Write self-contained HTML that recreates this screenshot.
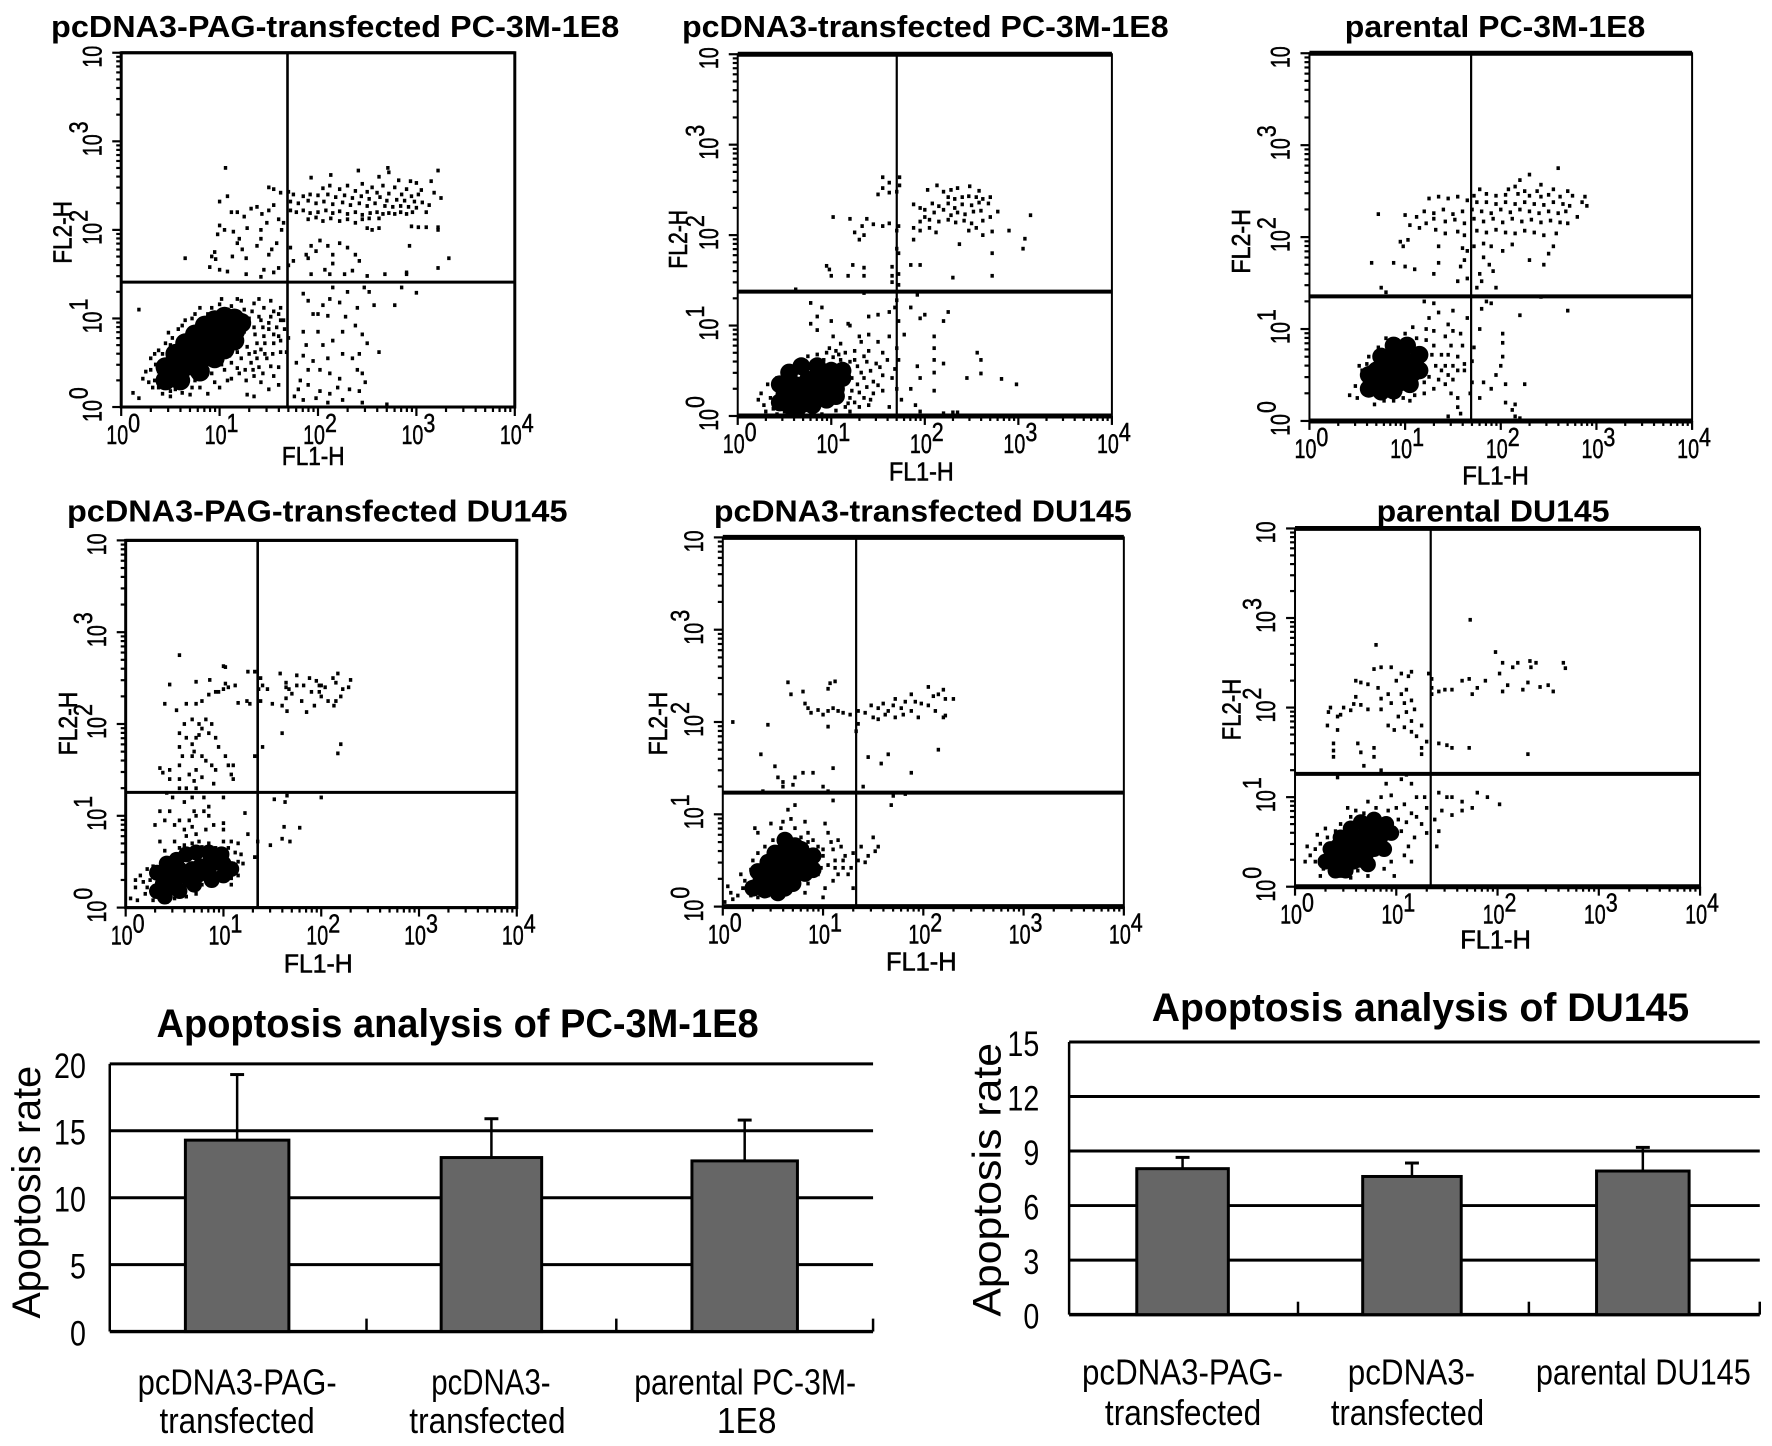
<!DOCTYPE html>
<html lang="en"><head><meta charset="utf-8"><title>Apoptosis flow cytometry</title>
<style>html,body{margin:0;padding:0;background:#fff}svg{display:block}text{font-family:"Liberation Sans",sans-serif;fill:#000}</style></head>
<body>
<svg id="fig" xmlns="http://www.w3.org/2000/svg" width="1772" height="1446" viewBox="0 0 1780 1453">
<rect width="1780" height="1453" fill="#fff"/>
<g id="plots"></g>
<g id="bars"></g>
</svg>
<script>
const decadeTicks=[0,1,2,3,4];
const minorMultiples=[2,3,4,5,6,7,8,9];
const panelTitles=["pcDNA3-PAG-transfected PC-3M-1E8","pcDNA3-transfected PC-3M-1E8","parental PC-3M-1E8","pcDNA3-PAG-transfected DU145","pcDNA3-transfected DU145","parental DU145"];
const gateFL1=[1.69,1.70,1.69,1.35,1.33,1.34];
const gateFL2=[1.41,1.375,1.355,1.255,1.235,1.26];
const points1=[[1.06,2.70],[3.22,2.67],[2.41,2.67],[2.71,2.70],[2.72,2.65],[1.93,2.59],[2.13,2.62],[2.62,2.60],[3.0,2.53],[3.15,2.55],[2.82,2.56],[2.94,2.55],[2.45,2.52],[2.55,2.48],[2.66,2.5],[2.78,2.48],[2.9,2.46],[3.05,2.45],[3.18,2.42],[3.25,2.36],[2.05,2.47],[2.12,2.5],[2.22,2.46],[2.3,2.5],[2.38,2.44],[2.5,2.43],[2.6,2.42],[2.72,2.41],[2.85,2.4],[2.95,2.38],[3.02,2.4],[1.5,2.48],[1.55,2.46],[1.62,2.42],[1.7,2.43],[1.75,2.4],[1.85,2.38],[1.92,2.4],[2.0,2.39],[2.1,2.4],[2.18,2.37],[2.27,2.39],[2.35,2.36],[2.44,2.38],[2.52,2.35],[2.63,2.37],[2.7,2.33],[2.8,2.34],[2.88,2.33],[2.98,2.32],[3.06,2.31],[3.13,2.28],[1.72,2.32],[1.8,2.3],[1.9,2.33],[1.98,2.3],[2.06,2.32],[2.15,2.29],[2.25,2.31],[2.33,2.28],[2.42,2.3],[2.5,2.27],[2.58,2.3],[2.68,2.27],[2.76,2.26],[2.84,2.27],[2.92,2.26],[3.0,2.25],[1.72,2.22],[1.78,2.2],[1.85,2.22],[1.92,2.19],[2.0,2.2],[2.08,2.22],[2.15,2.19],[2.22,2.21],[2.3,2.18],[2.38,2.2],[2.45,2.17],[2.53,2.19],[2.6,2.2],[2.66,2.18],[2.72,2.19],[2.78,2.18],[2.84,2.2],[2.9,2.18],[2.96,2.2],[3.1,2.2],[1.9,2.12],[1.98,2.14],[2.05,2.1],[2.13,2.13],[2.22,2.1],[2.3,2.12],[2.38,2.08],[2.45,2.12],[2.52,2.13],[2.62,2.13],[2.95,2.04],[3.02,2.03],[3.1,2.03],[3.22,2.03],[2.5,2.02],[2.55,2.0],[2.62,2.02],[1.0,2.32],[1.08,2.38],[1.12,2.2],[1.18,2.2],[1.25,2.15],[1.32,2.24],[1.38,2.26],[1.43,2.18],[1.5,2.22],[1.55,2.28],[1.6,2.12],[1.48,2.08],[1.42,2.0],[1.28,2.02],[1.65,2.08],[1.63,2.0],[1.0,2.05],[1.05,2.0],[0.98,1.95],[1.14,1.98],[1.58,1.85],[1.42,1.9],[1.38,1.82],[1.2,1.9],[1.18,1.85],[1.23,1.78],[0.95,1.75],[0.92,1.7],[0.96,1.67],[0.65,1.68],[1.13,1.7],[1.27,1.68],[1.5,1.72],[1.53,1.78],[1.75,1.65],[1.7,1.6],[1.6,1.57],[1.45,1.55],[1.27,1.5],[1.08,1.53],[1.0,1.55],[0.9,1.58],[1.42,1.47],[1.55,1.52],[1.72,1.8],[1.88,1.72],[1.93,1.82],[2.02,1.88],[2.1,1.82],[2.15,1.72],[2.22,1.85],[2.3,1.8],[2.38,1.72],[2.42,1.65],[1.9,1.68],[1.98,1.76],[1.93,1.5],[2.07,1.55],[2.12,1.5],[2.15,1.62],[2.27,1.5],[2.35,1.54],[2.5,1.48],[2.68,1.5],[2.9,1.5],[2.93,1.82],[3.22,2.0],[3.33,1.68],[3.22,1.57],[2.9,1.52],[3.0,1.29],[2.78,1.15],[2.85,1.35],[2.52,1.3],[2.47,1.35],[2.57,1.15],[2.4,1.12],[2.3,1.3],[2.15,1.35],[2.12,1.22],[2.05,1.15],[2.0,1.05],[2.1,1.03],[2.22,1.18],[2.28,1.02],[1.85,1.28],[1.9,1.2],[1.95,1.05],[2.0,0.85],[1.85,0.85],[1.88,0.7],[2.05,0.7],[2.15,0.75],[2.25,0.85],[2.38,0.92],[2.45,0.82],[2.5,0.72],[2.62,0.62],[2.42,0.6],[2.35,0.55],[2.25,0.6],[2.1,0.55],[1.95,0.52],[1.85,0.58],[1.78,0.5],[1.9,0.42],[2.02,0.42],[2.12,0.38],[2.22,0.32],[2.4,0.42],[2.45,0.38],[2.48,0.28],[2.42,0.18],[2.32,0.2],[2.2,0.22],[2.12,0.15],[2.02,0.18],[1.9,0.25],[1.82,0.3],[1.8,0.2],[1.76,0.12],[1.85,0.08],[1.98,0.1],[2.1,0.05],[2.25,0.08],[2.45,0.05],[2.7,0.03],[1.35,0.12],[1.5,0.2],[1.42,0.28],[1.6,0.25],[1.55,0.35],[1.35,0.35],[1.27,0.3],[1.2,0.38],[1.4,0.45],[1.6,0.45],[1.48,0.55],[1.3,0.6],[1.62,0.62],[1.7,0.78],[1.55,0.72],[1.45,0.8],[1.38,0.72],[1.5,0.95],[1.58,0.9],[1.65,0.98],[1.55,1.08],[1.62,1.12],[1.45,1.12],[1.35,1.17],[1.25,1.1],[1.18,1.22],[1.08,1.1],[1.0,1.16],[0.88,1.05],[0.8,1.12],[0.72,1.0],[0.65,0.98],[0.58,0.88],[0.52,0.78],[0.45,0.72],[0.38,0.64],[0.3,0.55],[0.25,0.4],[0.34,0.3],[0.32,0.22],[0.42,0.15],[0.5,0.12],[0.7,0.14],[0.58,0.22],[0.8,0.22],[0.95,0.28],[1.08,0.3],[0.88,0.15],[1.28,0.14],[0.18,0.1],[0.12,0.16],[0.18,1.1],[1.05,1.0],[1.18,1.05],[1.3,1.0],[1.42,0.98],[1.5,0.88],[1.35,0.9],[1.25,0.85],[1.42,0.65],[1.32,0.5],[1.22,0.55],[1.12,0.5],[1.05,0.42],[0.98,0.52],[0.88,0.42],[1.62,0.75],[1.68,0.62],[1.6,0.8],[1.2,0.7],[0.38,0.4],[0.45,0.28],[0.55,0.2],[0.65,0.26],[0.75,0.3],[0.35,0.48],[0.42,0.6],[0.5,0.7],[0.6,0.78],[0.7,0.85],[0.8,0.92],[0.9,0.98],[1.0,0.95],[1.33,1.08],[1.4,1.02],[1.28,0.92],[1.36,0.82],[1.44,0.9],[1.52,1.02],[1.6,1.05],[1.66,0.88],[1.55,0.82],[1.46,0.72],[1.36,0.62],[1.28,0.68],[1.18,0.62],[1.1,0.58],[1.02,0.48],[0.92,0.38],[0.82,0.33],[0.72,0.22],[0.62,0.16],[0.5,0.18],[0.38,0.22],[0.28,0.28],[0.22,0.32],[0.3,0.42],[0.34,0.6],[0.48,0.84],[0.62,0.92],[0.75,1.05],[0.92,1.12],[1.02,1.22],[1.12,1.14],[1.22,1.2],[1.4,1.22],[1.52,1.2],[1.62,0.98],[1.26,0.42],[1.18,0.44],[1.34,0.42],[1.44,0.38],[1.52,0.46],[1.46,0.6],[1.54,0.6],[1.12,0.32],[1.0,0.22],[1.38,0.55]];
const core1=[[0.5,0.35],[0.6,0.4],[0.7,0.47],[0.8,0.52],[0.9,0.6],[1.0,0.68],[1.08,0.78],[1.16,0.86],[0.58,0.52],[0.68,0.6],[0.78,0.68],[0.88,0.76],[0.98,0.84],[1.08,0.9],[0.72,0.72],[0.82,0.82],[0.92,0.88],[0.45,0.3],[0.45,0.45],[0.55,0.6],[0.65,0.72],[0.75,0.82],[0.85,0.92],[0.95,0.98],[1.05,1.02],[1.15,1.0],[1.22,0.95],[0.6,0.3],[0.8,0.4],[0.95,0.55],[1.05,0.65],[1.15,0.75]];
const points2=[[1.55,2.64],[1.73,2.64],[1.55,2.52],[1.73,2.55],[1.62,2.58],[1.7,2.48],[1.5,2.45],[1.62,2.47],[2.03,2.5],[2.13,2.55],[2.2,2.48],[2.28,2.5],[2.35,2.52],[2.48,2.54],[2.58,2.49],[2.25,2.42],[2.32,2.4],[2.4,2.42],[2.47,2.43],[2.55,2.42],[2.62,2.4],[2.08,2.35],[2.15,2.32],[2.25,2.35],[2.32,2.3],[2.4,2.34],[2.5,2.33],[2.58,2.36],[2.68,2.35],[2.7,2.42],[1.88,2.34],[1.95,2.3],[2.0,2.28],[2.1,2.25],[2.2,2.28],[2.28,2.22],[2.35,2.25],[2.43,2.23],[2.52,2.26],[2.6,2.27],[2.78,2.26],[3.13,2.22],[2.0,2.2],[1.95,2.15],[2.05,2.17],[2.15,2.15],[2.25,2.17],[2.33,2.14],[2.42,2.16],[2.5,2.13],[2.62,2.16],[2.7,2.2],[2.55,2.08],[2.72,2.04],[2.9,2.05],[3.07,1.96],[2.47,2.05],[2.62,2.0],[1.88,2.08],[1.95,2.05],[2.05,2.08],[2.12,2.03],[1.55,2.1],[1.62,2.13],[1.72,2.1],[1.45,2.12],[1.38,2.18],[1.33,2.1],[1.2,2.18],[1.02,2.2],[1.25,2.03],[1.35,2.0],[1.3,1.95],[1.7,2.05],[1.7,1.85],[2.37,1.9],[3.05,1.85],[2.72,1.8],[1.72,1.8],[1.88,1.95],[0.95,1.66],[0.98,1.62],[1.23,1.67],[1.35,1.64],[1.65,1.65],[1.72,1.57],[1.85,1.67],[1.95,1.67],[2.3,1.53],[2.72,1.55],[1.18,1.55],[1.35,1.55],[1.65,1.55],[1.72,1.45],[1.65,1.48],[1.0,1.55],[0.62,1.4],[1.35,1.36],[1.7,1.28],[1.92,1.34],[0.78,1.25],[0.9,1.2],[1.68,1.2],[1.85,1.2],[2.0,1.12],[2.25,1.15],[0.85,1.1],[1.0,1.05],[0.78,1.02],[1.18,1.02],[1.4,1.1],[1.5,1.12],[1.62,1.15],[1.72,1.05],[1.95,1.08],[2.2,1.05],[2.1,0.75],[2.1,0.88],[1.78,0.9],[1.62,0.88],[1.4,0.9],[1.2,1.0],[1.3,0.88],[0.85,0.95],[1.02,0.88],[1.1,0.8],[1.32,0.82],[1.5,0.82],[1.7,0.75],[2.1,0.62],[2.1,0.48],[2.56,0.7],[2.6,0.62],[2.6,0.47],[2.45,0.42],[2.82,0.41],[2.98,0.35],[2.2,0.58],[1.92,0.55],[1.95,0.42],[1.85,0.3],[1.9,0.12],[1.95,0.05],[2.3,0.04],[2.35,0.04],[2.1,0.28],[2.2,0.03],[0.25,0.25],[0.32,0.35],[0.35,0.2],[0.28,0.12],[0.38,0.08],[0.42,0.42],[0.48,0.5],[0.55,0.55],[0.5,0.05],[0.62,0.03],[0.7,0.08],[0.8,0.05],[0.9,0.02],[1.05,0.06],[1.15,0.1],[1.25,0.15],[1.35,0.2],[1.45,0.25],[1.55,0.28],[1.62,0.1],[1.7,0.3],[1.75,0.18],[1.65,0.42],[1.55,0.45],[1.45,0.38],[1.35,0.42],[1.28,0.35],[1.22,0.28],[1.28,0.55],[1.38,0.6],[1.48,0.58],[1.6,0.62],[1.72,0.62],[1.2,0.6],[1.1,0.62],[1.02,0.65],[0.92,0.62],[0.82,0.6],[1.05,0.72],[0.98,0.75],[1.15,0.7],[1.25,0.72],[1.4,0.72],[1.55,0.7],[1.68,0.52],[1.3,0.1],[1.4,0.12],[1.2,0.05],[1.2,0.2],[1.3,0.26],[1.38,0.32],[1.42,0.18],[1.5,0.34],[1.22,0.42],[1.32,0.48],[1.42,0.5],[1.52,0.54],[1.18,0.14],[1.1,0.18],[0.22,0.18],[0.3,0.05],[0.42,0.02],[1.14,0.56],[1.25,0.62],[1.35,0.66],[1.08,0.68],[0.95,0.7],[0.85,0.68],[0.75,0.66]];
const core2=[[0.5,0.24],[0.6,0.2],[0.7,0.26],[0.8,0.3],[0.9,0.35],[0.98,0.38],[0.62,0.34],[0.75,0.4],[0.88,0.46],[1.05,0.3],[0.72,0.14],[0.85,0.2],[1.12,0.42],[0.45,0.15],[0.55,0.12],[0.65,0.1],[0.8,0.12],[0.95,0.18],[1.05,0.22],[0.45,0.35],[0.55,0.48],[0.68,0.55],[0.85,0.55],[1.0,0.5],[1.12,0.5]];
const points3=[[2.6,2.75],[2.3,2.68],[2.2,2.62],[2.15,2.55],[2.55,2.52],[2.42,2.57],[2.7,2.5],[2.38,2.5],[2.25,2.5],[2.08,2.52],[1.78,2.52],[1.72,2.45],[1.85,2.47],[1.95,2.45],[2.05,2.46],[2.18,2.47],[2.3,2.45],[2.42,2.44],[2.5,2.46],[2.62,2.44],[2.75,2.45],[2.88,2.44],[1.25,2.42],[1.35,2.44],[1.45,2.42],[1.55,2.44],[1.65,2.4],[1.75,2.38],[1.85,2.38],[1.95,2.36],[2.05,2.38],[2.15,2.36],[2.25,2.38],[2.35,2.36],[2.45,2.35],[2.55,2.38],[2.65,2.36],[2.72,2.34],[2.85,2.38],[2.9,2.34],[0.72,2.25],[1.0,2.24],[1.12,2.22],[1.2,2.28],[1.3,2.26],[1.4,2.3],[1.5,2.25],[1.6,2.28],[1.7,2.3],[1.8,2.28],[1.9,2.26],[2.0,2.3],[2.1,2.27],[2.2,2.3],[2.3,2.28],[2.4,2.26],[2.5,2.28],[2.6,2.26],[2.68,2.28],[2.8,2.22],[1.22,2.15],[1.3,2.2],[1.42,2.17],[1.52,2.19],[1.62,2.15],[1.72,2.2],[1.82,2.17],[1.92,2.2],[2.02,2.16],[2.12,2.2],[2.22,2.17],[2.32,2.19],[2.42,2.16],[2.52,2.18],[2.62,2.16],[2.7,2.15],[1.05,2.13],[1.15,2.1],[1.32,2.08],[1.42,2.04],[1.55,2.06],[1.62,2.02],[1.75,2.07],[1.85,2.05],[1.95,2.08],[2.05,2.05],[2.15,2.04],[2.25,2.07],[2.35,2.05],[2.45,2.02],[2.58,2.04],[0.95,1.95],[1.03,1.97],[0.98,1.9],[1.35,1.9],[1.6,1.88],[1.65,1.85],[1.72,1.9],[1.82,1.93],[1.9,1.9],[2.02,1.85],[2.12,1.92],[2.55,1.9],[2.5,1.82],[2.3,1.75],[2.45,1.7],[0.65,1.72],[0.88,1.72],[1.0,1.68],[1.1,1.65],[1.35,1.72],[1.58,1.68],[1.62,1.75],[1.82,1.78],[1.88,1.7],[1.92,1.63],[1.65,1.55],[1.3,1.6],[1.55,1.52],[1.78,1.6],[1.8,1.52],[1.75,1.45],[1.95,1.45],[0.75,1.45],[0.8,1.4],[1.85,1.3],[1.9,1.28],[2.42,1.35],[2.7,1.2],[2.2,1.15],[1.8,1.22],[1.3,1.28],[1.2,1.3],[1.35,1.18],[1.25,1.12],[1.5,1.2],[1.45,1.05],[1.65,1.12],[1.78,1.0],[2.02,0.95],[2.02,0.85],[2.02,0.7],[2.0,0.6],[1.95,0.5],[1.9,0.35],[1.82,0.42],[1.7,0.42],[1.55,0.7],[1.62,0.55],[1.72,0.8],[1.7,0.65],[1.6,0.82],[1.5,0.98],[1.42,0.92],[1.3,0.98],[1.22,1.0],[1.08,1.02],[1.0,0.95],[0.92,0.88],[1.45,0.72],[1.38,0.55],[1.5,0.45],[1.42,0.4],[1.3,0.35],[1.2,0.3],[1.1,0.28],[0.98,0.25],[0.88,0.22],[0.75,0.3],[0.68,0.18],[0.48,0.38],[0.42,0.28],[0.5,0.25],[0.58,0.45],[0.6,0.32],[0.52,0.6],[0.62,0.7],[0.72,0.8],[0.8,0.9],[1.48,0.3],[1.55,0.25],[1.55,0.15],[1.58,0.08],[1.45,0.05],[2.05,0.2],[2.12,0.12],[2.15,0.05],[2.2,0.03],[2.15,0.18],[2.05,0.4],[2.25,0.4],[1.68,0.3],[1.78,0.25],[1.5,0.6],[1.58,0.95],[1.42,0.6],[1.25,0.48],[1.32,0.6],[1.38,0.72],[1.3,0.82],[1.22,0.88],[1.12,0.9],[1.45,0.5],[1.55,0.55],[1.62,0.62],[1.35,0.45],[1.2,0.42],[1.05,0.22],[0.9,0.28],[0.55,0.55],[0.6,0.62],[0.55,0.35],[0.78,0.22],[1.28,0.72],[1.48,0.82]];
const core3=[[0.72,0.42],[0.82,0.46],[0.95,0.42],[0.7,0.55],[0.82,0.58],[0.95,0.55],[1.08,0.52],[0.85,0.68],[0.98,0.68],[1.1,0.64],[0.95,0.78],[0.62,0.35],[0.62,0.5],[0.75,0.32],[0.88,0.33],[1.05,0.4],[1.15,0.55],[1.15,0.72],[1.02,0.82],[0.88,0.82],[0.75,0.7]];
const points4=[[0.55,2.75],[1.0,2.63],[1.02,2.62],[0.45,2.43],[0.72,2.46],[0.86,2.48],[0.95,2.35],[1.02,2.44],[1.05,2.4],[0.4,2.22],[0.52,2.15],[0.62,2.22],[0.72,2.22],[0.78,2.25],[0.85,2.32],[0.92,2.35],[1.0,2.38],[1.12,2.42],[1.25,2.57],[1.32,2.57],[1.38,2.5],[1.4,2.42],[1.36,2.38],[1.38,2.25],[1.24,2.25],[1.27,2.22],[1.15,2.23],[1.45,2.38],[1.5,2.22],[1.58,2.55],[1.64,2.28],[1.65,2.14],[1.6,2.2],[1.67,2.38],[1.64,2.45],[1.64,2.4],[1.75,2.53],[1.7,2.33],[1.75,2.42],[1.8,2.25],[1.82,2.42],[1.88,2.5],[1.9,2.35],[1.95,2.47],[1.98,2.42],[2.0,2.42],[2.04,2.4],[1.98,2.35],[2.0,2.3],[2.15,2.45],[2.17,2.55],[2.12,2.5],[2.13,2.2],[2.15,2.25],[2.2,2.3],[2.22,2.38],[2.28,2.4],[2.3,2.48],[1.85,2.13],[1.93,2.2],[2.07,2.25],[1.6,1.9],[1.4,1.75],[2.2,1.78],[2.17,1.68],[1.32,1.65],[0.55,1.9],[0.6,2.0],[0.68,2.05],[0.62,1.85],[0.72,1.85],[0.68,1.78],[0.55,1.75],[0.58,1.65],[0.7,1.7],[0.75,2.0],[0.82,2.05],[0.78,1.95],[0.75,1.88],[0.85,1.9],[0.88,2.0],[0.92,1.85],[0.95,1.75],[0.68,1.65],[0.78,1.65],[0.82,1.6],[0.88,1.55],[0.92,1.5],[1.02,1.65],[1.05,1.55],[1.1,1.55],[1.08,1.45],[0.35,1.52],[0.38,1.47],[0.45,1.5],[0.55,1.55],[0.45,1.4],[0.55,1.4],[0.65,1.45],[0.72,1.5],[0.7,1.38],[0.78,1.42],[0.42,1.25],[0.48,1.2],[0.55,1.3],[0.62,1.3],[0.72,1.3],[0.9,1.35],[1.1,1.4],[1.0,1.2],[0.8,1.2],[0.35,1.05],[0.45,1.05],[0.6,1.15],[0.68,1.2],[0.7,1.05],[0.72,1.0],[0.8,1.05],[0.85,1.1],[0.85,1.0],[1.22,1.03],[0.3,0.9],[0.4,0.95],[0.5,0.9],[0.55,0.95],[0.6,0.85],[0.62,0.78],[0.65,0.95],[0.68,0.88],[0.72,0.8],[0.75,0.72],[0.82,0.85],[0.9,0.9],[1.0,0.92],[1.08,0.72],[1.15,0.7],[1.0,0.85],[1.25,0.8],[1.35,0.72],[1.48,0.68],[1.6,0.75],[1.68,0.72],[1.78,0.87],[1.62,0.88],[1.63,1.15],[1.52,1.18],[1.65,1.22],[2.0,1.2],[1.32,0.55],[0.35,0.72],[0.4,0.62],[0.38,0.52],[0.28,0.45],[0.32,0.38],[0.22,0.42],[0.25,0.3],[0.18,0.28],[0.1,0.22],[0.05,0.1],[0.12,0.08],[0.2,0.15],[0.3,0.15],[0.62,0.12],[0.72,0.15],[0.5,0.72],[0.55,0.65],[0.6,0.68],[0.68,0.7],[0.78,0.66],[0.85,0.7],[0.92,0.65],[1.0,0.72],[1.05,0.65],[1.12,0.6],[1.18,0.58],[1.1,0.48],[1.12,0.4],[1.15,0.35],[1.08,0.32],[1.0,0.36],[0.92,0.32],[0.85,0.28],[0.78,0.25],[0.7,0.2],[0.6,0.18],[1.15,0.5],[0.15,0.35],[0.22,0.22],[0.1,0.3],[0.28,0.08],[0.42,0.06],[0.5,0.1],[1.2,0.48],[1.08,0.25]];
const core4=[[0.38,0.26],[0.45,0.22],[0.42,0.35],[0.52,0.32],[0.6,0.38],[0.68,0.42],[0.76,0.45],[0.84,0.47],[0.92,0.49],[1.0,0.48],[0.55,0.42],[0.65,0.3],[0.75,0.36],[0.85,0.38],[0.32,0.18],[0.4,0.12],[0.32,0.38],[0.42,0.48],[0.52,0.52],[0.62,0.58],[0.72,0.6],[0.85,0.6],[0.98,0.58],[1.08,0.42],[0.55,0.18],[0.7,0.25],[0.88,0.3],[1.0,0.35]];
const points5=[[0.65,2.43],[0.8,2.33],[0.68,2.3],[1.07,2.42],[1.12,2.44],[1.05,2.36],[0.82,2.2],[0.85,2.15],[0.95,2.13],[0.88,2.1],[1.0,2.08],[1.05,2.12],[1.1,2.15],[1.15,2.12],[1.2,2.1],[1.27,2.08],[1.35,2.12],[1.42,2.1],[1.48,2.18],[1.55,2.15],[1.6,2.2],[1.65,2.12],[1.7,2.18],[1.72,2.25],[1.78,2.15],[1.82,2.22],[1.88,2.3],[1.92,2.22],[1.98,2.2],[2.05,2.38],[2.1,2.28],[2.15,2.3],[2.2,2.35],[2.22,2.25],[1.5,2.05],[1.55,2.03],[1.62,2.08],[1.72,2.05],[1.8,2.08],[1.88,2.12],[1.95,2.05],[2.05,2.18],[2.12,2.12],[2.2,2.05],[2.22,2.07],[2.3,2.25],[0.1,2.0],[0.45,1.97],[1.05,1.95],[1.35,1.98],[1.33,1.9],[1.65,1.65],[2.15,1.7],[0.38,1.65],[1.45,1.62],[0.52,1.52],[1.58,1.55],[1.1,1.5],[1.88,1.45],[0.55,1.4],[0.6,1.35],[0.72,1.4],[0.8,1.45],[0.9,1.45],[0.6,1.3],[0.7,1.32],[1.0,1.3],[1.4,1.3],[0.4,1.25],[1.05,1.25],[1.1,1.15],[1.7,1.2],[1.82,1.22],[1.68,1.1],[0.65,1.05],[0.72,1.1],[0.68,0.95],[0.6,0.92],[0.58,0.85],[0.48,0.9],[0.32,0.85],[0.35,0.8],[0.5,0.72],[0.6,0.75],[0.72,0.7],[0.85,0.8],[1.02,0.9],[1.05,0.8],[1.08,0.7],[1.15,0.72],[1.1,0.62],[1.5,0.75],[1.55,0.65],[1.45,0.55],[1.52,0.6],[1.42,0.48],[1.35,0.5],[1.3,0.58],[1.28,0.42],[1.25,0.35],[1.38,0.65],[1.2,0.42],[1.15,0.35],[1.22,0.55],[1.18,0.65],[1.02,0.2],[1.1,0.28],[1.3,0.2],[0.08,0.15],[0.05,0.22],[0.1,0.08],[0.15,0.12],[0.2,0.2],[0.28,0.12],[0.22,0.28],[0.18,0.35],[0.28,0.4],[0.3,0.5],[0.35,0.58],[0.42,0.65],[0.5,0.62],[0.62,0.6],[0.85,0.7],[0.95,0.65],[1.0,0.55],[0.98,0.42],[0.95,0.35],[0.85,0.25],[0.75,0.22],[0.65,0.2],[0.55,0.15],[0.45,0.12],[0.38,0.2],[1.05,0.45],[1.12,0.5],[0.88,0.55],[0.78,0.62],[0.7,0.58],[0.82,0.15],[1.0,0.1],[0.35,0.1],[0.02,0.05],[0.78,0.75],[0.9,0.72],[1.0,0.62],[1.12,0.42],[1.2,0.5],[0.72,0.85],[0.82,0.92]];
const core5=[[0.38,0.28],[0.45,0.3],[0.42,0.18],[0.52,0.24],[0.6,0.3],[0.68,0.36],[0.55,0.38],[0.65,0.45],[0.75,0.42],[0.82,0.48],[0.72,0.52],[0.3,0.2],[0.35,0.38],[0.45,0.48],[0.52,0.58],[0.62,0.62],[0.78,0.62],[0.9,0.55],[0.9,0.4],[0.55,0.15],[0.7,0.25],[0.62,0.72],[0.5,0.42],[0.6,0.5],[0.45,0.2],[0.62,0.2],[0.72,0.38],[0.82,0.36],[0.8,0.55],[0.72,0.66]];
const points6=[[1.73,2.98],[0.8,2.7],[1.98,2.62],[2.2,2.5],[2.05,2.5],[2.15,2.45],[2.02,2.38],[2.32,2.52],[2.33,2.45],[2.38,2.5],[2.65,2.5],[2.67,2.44],[0.85,2.45],[0.78,2.43],[0.95,2.45],[1.05,2.38],[1.12,2.35],[1.15,2.4],[1.32,2.38],[0.6,2.3],[0.65,2.28],[0.72,2.26],[0.82,2.22],[0.85,2.1],[0.92,2.15],[0.95,2.05],[1.0,2.3],[1.05,2.15],[1.1,2.2],[1.08,2.05],[1.15,2.08],[1.18,1.98],[1.1,1.95],[1.15,1.85],[0.6,2.12],[0.58,2.04],[0.65,2.03],[0.55,1.97],[0.48,2.0],[0.35,2.0],[0.33,1.95],[0.45,1.92],[0.42,1.9],[0.32,1.8],[0.42,1.75],[0.72,1.98],[0.85,1.98],[0.92,1.8],[0.98,1.75],[1.02,1.9],[1.08,1.78],[1.15,1.73],[1.2,1.68],[1.25,1.8],[1.3,1.62],[0.38,1.6],[0.38,1.52],[0.38,1.45],[0.62,1.6],[0.65,1.5],[0.78,1.55],[0.78,1.45],[0.68,1.35],[1.25,1.55],[1.25,1.48],[1.42,1.6],[1.5,1.58],[1.55,1.55],[1.72,1.55],[2.3,1.48],[1.35,2.32],[1.35,2.22],[1.42,2.18],[1.48,2.2],[1.55,2.2],[1.65,2.3],[1.72,2.32],[1.75,2.15],[1.8,2.22],[1.88,2.3],[2.05,2.18],[2.1,2.25],[2.25,2.2],[2.3,2.28],[2.42,2.23],[2.5,2.25],[2.55,2.18],[1.35,2.15],[0.42,1.22],[0.85,1.3],[0.9,1.15],[0.95,1.02],[1.05,1.2],[1.1,1.25],[1.15,1.15],[1.2,1.0],[1.28,1.0],[1.42,1.05],[1.5,1.0],[1.55,1.0],[1.65,0.95],[1.8,1.05],[1.9,1.0],[2.02,0.92],[1.45,0.85],[1.55,0.8],[1.65,0.85],[1.75,0.88],[1.38,0.75],[1.42,0.62],[1.4,0.45],[1.3,0.6],[1.25,0.7],[1.15,0.82],[1.08,0.92],[1.0,0.88],[0.85,1.0],[0.72,0.95],[0.6,0.85],[0.55,0.78],[0.45,0.7],[0.4,0.62],[0.32,0.55],[0.25,0.48],[0.2,0.42],[0.15,0.35],[0.2,0.28],[0.28,0.2],[0.35,0.15],[0.45,0.12],[0.55,0.1],[0.72,0.12],[0.88,0.2],[0.95,0.28],[1.08,0.35],[1.12,0.45],[1.18,0.55],[1.05,0.62],[1.02,0.75],[0.92,0.85],[0.8,0.88],[0.68,0.82],[0.72,0.25],[0.62,0.18],[1.1,0.72],[1.2,0.78],[1.3,0.88],[0.52,0.88],[0.3,0.65],[0.22,0.58],[0.12,0.45],[0.1,0.28],[0.25,0.12],[0.98,0.12],[1.15,0.28]];
const core6=[[0.3,0.28],[0.38,0.28],[0.45,0.32],[0.52,0.38],[0.6,0.42],[0.68,0.46],[0.76,0.5],[0.84,0.54],[0.42,0.45],[0.52,0.5],[0.62,0.55],[0.72,0.6],[0.58,0.28],[0.7,0.36],[0.82,0.66],[0.35,0.42],[0.45,0.55],[0.55,0.65],[0.65,0.72],[0.78,0.75],[0.9,0.7],[0.95,0.6],[0.88,0.42],[0.5,0.18],[0.4,0.18],[0.72,0.25],[0.5,0.3],[0.6,0.35],[0.65,0.3],[0.78,0.42],[0.78,0.6],[0.7,0.68],[0.5,0.42],[0.82,0.5]];
const pointSeries=[points1,points2,points3,points4,points5,points6];
const coreSeries=[core1,core2,core3,core4,core5,core6];
const pc3Categories=[["pcDNA3-PAG-","transfected"],["pcDNA3-","transfected"],["parental PC-3M-","1E8"]];
const pc3Values=[14.3,13.0,12.75];
const pc3Errors=[4.9,2.9,3.05];
const pc3Ticks=[0,5,10,15,20];
const du145Categories=[["pcDNA3-PAG-","transfected"],["pcDNA3-","transfected"],["parental DU145"]];
const du145Values=[8.03,7.6,7.9];
const du145Errors=[0.62,0.74,1.3];
const du145Ticks=[0,3,6,9,12,15];
const NS="http://www.w3.org/2000/svg";
function make(parent,tag,attrs,txt){const e=document.createElementNS(NS,tag);for(const k in attrs)e.setAttribute(k,attrs[k]);if(txt!==undefined)e.textContent=txt;parent.appendChild(e);return e;}
const panelLayouts=[
{l:121.5,r:517,t:53,b:409,ti:[51,622,37],fl1:[283,346,467],fl2:[71.5,202,265],frame:3,edge:3,gh:3,gv:2.6,coreR:10},
{l:741,r:1117,t:54.5,b:418,ti:[685,1174,37],fl1:[893,958,483],fl2:[690,211,270],frame:2,edge:5,gh:4,gv:2.2,coreR:9},
{l:1315.5,r:1700,t:53.5,b:423,ti:[1351,1653,37],fl1:[1469,1536,487],fl2:[1256,210,275],frame:2,edge:5,gh:4,gv:2.2,coreR:9},
{l:126,r:519,t:543,b:912,ti:[67,570,524],fl1:[285,354,977],fl2:[77,695,759],frame:3,edge:3,gh:3,gv:2.6,coreR:8},
{l:726,r:1129,t:540,b:911,ti:[717,1137,524],fl1:[890,961,975],fl2:[670,695,759],frame:2,edge:5,gh:4,gv:2.2,coreR:8.5},
{l:1301,r:1708,t:531,b:891,ti:[1383,1617,524],fl1:[1467,1538,953],fl2:[1246,682,744],frame:2,edge:5,gh:4,gv:2.2,coreR:8}];
const plots=document.getElementById('plots');
function fitText(parent,name,x,y,len,size,weight,txt,rot,thick){
  const e=make(parent,'text',{x:x,y:y,'font-size':size,'font-weight':weight,textLength:len,lengthAdjust:'spacingAndGlyphs'},txt);
  
  
  if(thick){e.setAttribute('stroke','#000');e.setAttribute('stroke-width',thick);}
  if(rot)e.setAttribute('transform','rotate(-90 '+x+' '+y+')');
  return e;
}
panelLayouts.forEach(function(p,i){
  const g=make(plots,'g',{});
  
  
  const sx=function(v){return p.l+(p.r-p.l)*v/4;};
  const sy=function(v){return p.b-(p.b-p.t)*v/4;};
  fitText(g,'plot-title',p.ti[0],p.ti[2],p.ti[1]-p.ti[0],31,'bold',panelTitles[i]);
  coreSeries[i].forEach(function(c){
    const m=make(g,'circle',{cx:sx(c[0]),cy:sy(c[1]),r:p.coreR,fill:'#000'});
    
    
  });
  pointSeries[i].forEach(function(c){
    const m=make(g,'rect',{x:sx(c[0])-1.7,y:sy(c[1])-1.9,width:3.4,height:3.8,fill:'#000'});
    
    
  });
  const fr=make(g,'rect',{x:p.l,y:p.t,width:p.r-p.l,height:p.b-p.t,fill:'none',stroke:'#000','stroke-width':p.frame});
  
  
  [p.t,p.b].forEach(function(y){
    const ed=make(g,'line',{x1:p.l,x2:p.r,y1:y,y2:y,stroke:'#000','stroke-width':p.edge});
    
    
  });
  const gx=make(g,'line',{x1:sx(gateFL1[i]),x2:sx(gateFL1[i]),y1:p.t,y2:p.b,stroke:'#000','stroke-width':p.gv});
  
  
  const gy=make(g,'line',{x1:p.l,x2:p.r,y1:sy(gateFL2[i]),y2:sy(gateFL2[i]),stroke:'#000','stroke-width':p.gh});
  
  
  decadeTicks.forEach(function(d){
    [1].concat(d<4?minorMultiples:[]).forEach(function(m,j){
      const v=d+Math.log10(m);
      const len=j===0?9:5;
      const tx=make(g,'line',{x1:sx(v),x2:sx(v),y1:p.b,y2:p.b+len,stroke:'#000','stroke-width':2.2});
      
      
      const ty=make(g,'line',{x1:p.l,x2:p.l-len,y1:sy(v),y2:sy(v),stroke:'#000','stroke-width':2.2});
      
      
    });
    const xs=sx(d)-15,ys=p.b+37;
    fitText(g,'x-tick-label',xs,ys,22,27,'normal','10',false,0.5);
    fitText(g,'x-tick-exponent',xs+22,ys-12,12,26,'normal',String(d),false,0.5);
    const bx=p.l-20,by=sy(d)+15;
    fitText(g,'y-tick-label',bx,by,22,27,'normal','10',true,0.5);
    if(d<4)fitText(g,'y-tick-exponent',bx-14,by-23,12,26,'normal',String(d),true,0.5);
  });
  fitText(g,'x-axis-title',p.fl1[0],p.fl1[2],p.fl1[1]-p.fl1[0],26,'normal','FL1-H',false,0.6);
  fitText(g,'y-axis-title',p.fl2[0],p.fl2[2],p.fl2[2]-p.fl2[1],26,'normal','FL2-H',true,0.6);
});
const barLayouts=[
{name:'pc3',title:'Apoptosis analysis of PC-3M-1E8',ti:[157,762,1042],l:110,r:877,y0:1338,yTop:1069,max:20,ticks:pc3Ticks,vals:pc3Values,errs:pc3Errors,cats:pc3Categories,
 barL:[186,443,695],barR:[290,544,801],sep:[368,619,877],tickR:86,yt:[40,1071,1325],cat:[[[138,338,1401],[160,316,1440]],[[433,553,1401],[411,568,1440]],[[637,860,1401],[720,780,1440]]]},
{name:'du145',title:'Apoptosis analysis of DU145',ti:[1157,1697,1026],l:1074,r:1768,y0:1321,yTop:1047,max:15,ticks:du145Ticks,vals:du145Values,errs:du145Errors,cats:du145Categories,
 barL:[1142,1369,1604],barR:[1234,1468,1697],sep:[1304,1536,1768],tickR:1044,yt:[1005,1048,1323],cat:[[[1087,1289,1391],[1110,1267,1432]],[[1354,1482,1391],[1337,1491,1432]],[[1543,1759,1391]]]}];
const bars=document.getElementById('bars');
barLayouts.forEach(function(c){
  const g=make(bars,'g',{});
  
  
  const sy=function(v){return c.y0-(c.y0-c.yTop)*v/c.max;};
  fitText(g,'chart-title',c.ti[0],c.ti[2],c.ti[1]-c.ti[0],40,'bold',c.title);
  c.ticks.forEach(function(t){
    const ln=make(g,'line',{x1:c.l,x2:c.r,y1:sy(t),y2:sy(t),stroke:'#000','stroke-width':t===0?3.5:3});
    
    
    const s=String(t);
    const w=s.length*16;
    fitText(g,'y-tick-label',c.tickR-w,sy(t)+14,w,35,'normal',s);
  });
  const ax=make(g,'line',{x1:c.l,x2:c.l,y1:c.yTop,y2:c.y0,stroke:'#000','stroke-width':2.5});
  
  
  c.sep.forEach(function(x){
    const s=make(g,'line',{x1:x,x2:x,y1:c.y0-13,y2:c.y0,stroke:'#000','stroke-width':2.5});
    
    
  });
  c.vals.forEach(function(v,i){
    const cx=(c.barL[i]+c.barR[i])/2;
    const top=sy(v+c.errs[i]);
    const e1=make(g,'line',{x1:cx,x2:cx,y1:top,y2:sy(v),stroke:'#000','stroke-width':2.5});
    
    
    const e2=make(g,'line',{x1:cx-7,x2:cx+7,y1:top,y2:top,stroke:'#000','stroke-width':3});
    
    
    const b=make(g,'rect',{x:c.barL[i],y:sy(v),width:c.barR[i]-c.barL[i],height:c.y0-sy(v),fill:'#666',stroke:'#000','stroke-width':3});
    
    
    c.cats[i].forEach(function(t,j){
      const q=c.cat[i][j];
      fitText(g,'category-label',q[0],q[2],q[1]-q[0],36,'normal',t);
    });
  });
  fitText(g,'y-axis-title',c.yt[0],c.yt[2],c.yt[2]-c.yt[1],40,'normal','Apoptosis rate',true);
});
</script>
</body></html>
